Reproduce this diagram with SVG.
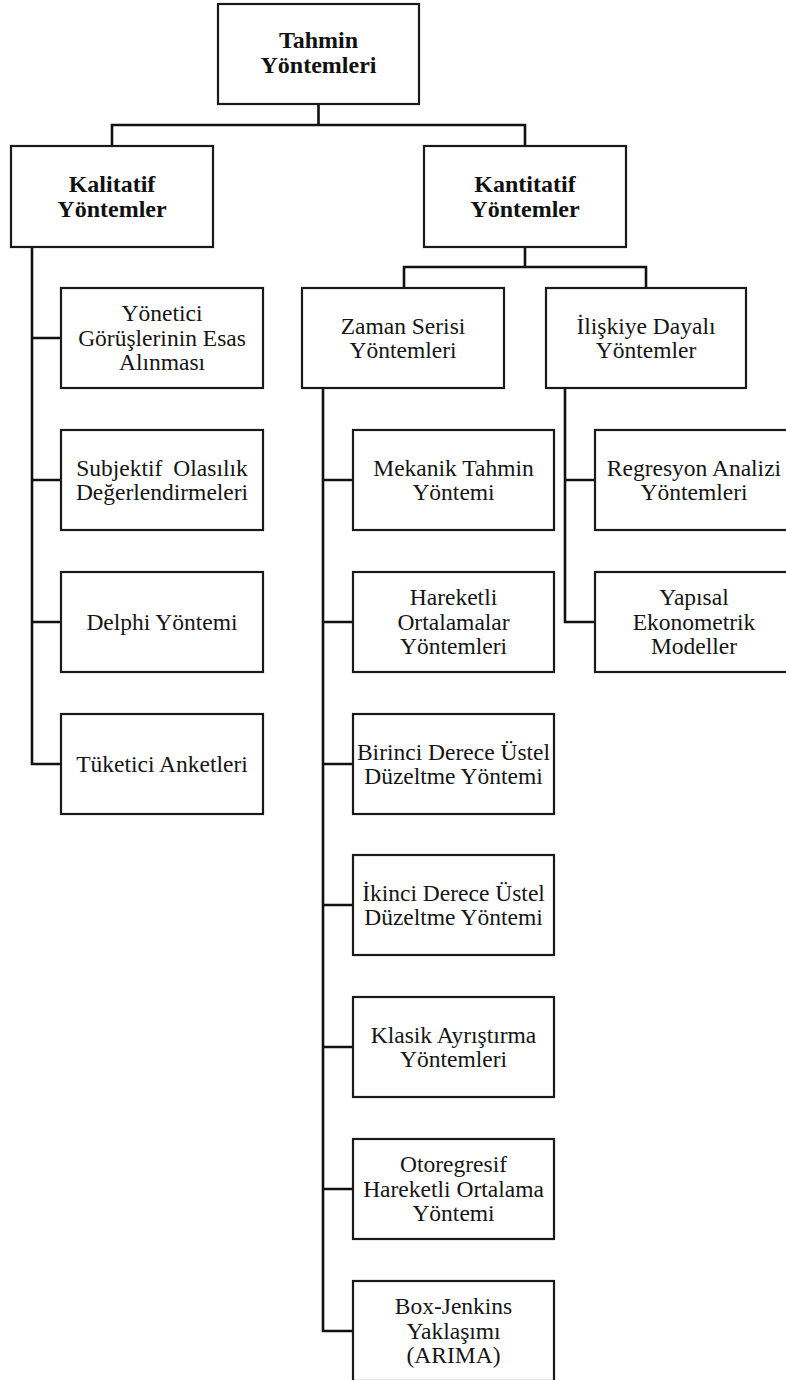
<svg xmlns="http://www.w3.org/2000/svg" width="786" height="1380" viewBox="0 0 786 1380">
  <style>
    .box { fill: #ffffff; stroke: #1a1a1a; stroke-width: 2.2; }
    .link { fill: none; stroke: #111111; stroke-width: 2.6; stroke-linejoin: miter; stroke-linecap: square; }
    .lbl { font-family: "Liberation Serif", "Times New Roman", serif; font-size: 23.5px; fill: #151515; text-anchor: middle; }
    .head { font-family: "Liberation Serif", "Times New Roman", serif; font-size: 24px; font-weight: bold; fill: #111111; text-anchor: middle; }
  </style>

  <rect x="0" y="0" width="786" height="1380" fill="#ffffff"/>

  <!-- connectors -->
  <g id="connectors">
    <!-- root to first level -->
    <path class="link" d="M318.5,104 V125 M112,146 V125 H525 V146"/>
    <!-- Kantitatif to second level -->
    <path class="link" d="M525,247 V267 M404,288 V267 H646 V288"/>
    <!-- Kalitatif trunk and branches -->
    <path class="link" d="M32,247 V764 H61 M32,338 H61 M32,480 H61 M32,622 H61"/>
    <!-- Zaman Serisi trunk and branches -->
    <path class="link" d="M323,388 V1331 H353 M323,480 H353 M323,622 H353 M323,764 H353 M323,905 H353 M323,1047 H353 M323,1189 H353"/>
    <!-- İlişkiye Dayalı trunk and branches -->
    <path class="link" d="M565,388 V622 H595 M565,480 H595"/>
  </g>

  <!-- root -->
  <g id="tahmin">
    <rect class="box" x="218" y="4" width="201" height="100"/>
    <text class="head" x="318.5" y="48">Tahmin</text>
    <text class="head" x="318.5" y="73">Yöntemleri</text>
  </g>

  <!-- first level -->
  <g id="kalitatif">
    <rect class="box" x="11" y="146" width="202" height="101"/>
    <text class="head" x="112" y="192">Kalitatif</text>
    <text class="head" x="112" y="217">Yöntemler</text>
  </g>
  <g id="kantitatif">
    <rect class="box" x="424" y="146" width="202" height="101"/>
    <text class="head" x="525" y="192">Kantitatif</text>
    <text class="head" x="525" y="217">Yöntemler</text>
  </g>

  <!-- qualitative methods -->
  <g id="yonetici">
    <rect class="box" x="61" y="288" width="202" height="100"/>
    <text class="lbl" x="162" y="321">Yönetici</text>
    <text class="lbl" x="162" y="345.5">Görüşlerinin Esas</text>
    <text class="lbl" x="162" y="370">Alınması</text>
  </g>
  <g id="subjektif">
    <rect class="box" x="61" y="430" width="202" height="100"/>
    <text class="lbl" x="162" y="475.5" word-spacing="5">Subjektif Olasılık</text>
    <text class="lbl" x="162" y="500">Değerlendirmeleri</text>
  </g>
  <g id="delphi">
    <rect class="box" x="61" y="572" width="202" height="100"/>
    <text class="lbl" x="162" y="629.5">Delphi Yöntemi</text>
  </g>
  <g id="tuketici">
    <rect class="box" x="61" y="714" width="202" height="100"/>
    <text class="lbl" x="162" y="771.5">Tüketici Anketleri</text>
  </g>

  <!-- second level under quantitative -->
  <g id="zaman-serisi">
    <rect class="box" x="302" y="288" width="202" height="100"/>
    <text class="lbl" x="403" y="333.5">Zaman Serisi</text>
    <text class="lbl" x="403" y="358">Yöntemleri</text>
  </g>
  <g id="iliskiye-dayali">
    <rect class="box" x="546" y="288" width="200" height="100"/>
    <text class="lbl" x="646" y="333.5">İlişkiye Dayalı</text>
    <text class="lbl" x="646" y="358">Yöntemler</text>
  </g>

  <!-- time series methods -->
  <g id="mekanik">
    <rect class="box" x="353" y="430" width="201" height="100"/>
    <text class="lbl" x="453.5" y="475.5">Mekanik Tahmin</text>
    <text class="lbl" x="453.5" y="500">Yöntemi</text>
  </g>
  <g id="hareketli-ortalamalar">
    <rect class="box" x="353" y="572" width="201" height="100"/>
    <text class="lbl" x="453.5" y="605">Hareketli</text>
    <text class="lbl" x="453.5" y="629.5">Ortalamalar</text>
    <text class="lbl" x="453.5" y="654">Yöntemleri</text>
  </g>
  <g id="birinci-derece">
    <rect class="box" x="353" y="714" width="201" height="100"/>
    <text class="lbl" x="453.5" y="759.5">Birinci Derece Üstel</text>
    <text class="lbl" x="453.5" y="784">Düzeltme Yöntemi</text>
  </g>
  <g id="ikinci-derece">
    <rect class="box" x="353" y="855" width="201" height="100"/>
    <text class="lbl" x="453.5" y="900.5">İkinci Derece Üstel</text>
    <text class="lbl" x="453.5" y="925">Düzeltme Yöntemi</text>
  </g>
  <g id="klasik-ayristirma">
    <rect class="box" x="353" y="997" width="201" height="100"/>
    <text class="lbl" x="453.5" y="1042.5">Klasik Ayrıştırma</text>
    <text class="lbl" x="453.5" y="1067">Yöntemleri</text>
  </g>
  <g id="otoregresif">
    <rect class="box" x="353" y="1139" width="201" height="100"/>
    <text class="lbl" x="453.5" y="1172">Otoregresif</text>
    <text class="lbl" x="453.5" y="1196.5">Hareketli Ortalama</text>
    <text class="lbl" x="453.5" y="1221">Yöntemi</text>
  </g>
  <g id="box-jenkins">
    <rect class="box" x="353" y="1281" width="201" height="100"/>
    <text class="lbl" x="453.5" y="1314">Box-Jenkins</text>
    <text class="lbl" x="453.5" y="1338.5">Yaklaşımı</text>
    <text class="lbl" x="453.5" y="1363">(ARIMA)</text>
  </g>

  <!-- causal methods -->
  <g id="regresyon">
    <rect class="box" x="595" y="430" width="202" height="100"/>
    <text class="lbl" x="694" y="475.5">Regresyon Analizi</text>
    <text class="lbl" x="694" y="500">Yöntemleri</text>
  </g>
  <g id="yapisal">
    <rect class="box" x="595" y="572" width="202" height="100"/>
    <text class="lbl" x="694" y="605">Yapısal</text>
    <text class="lbl" x="694" y="629.5">Ekonometrik</text>
    <text class="lbl" x="694" y="654">Modeller</text>
  </g>
</svg>
